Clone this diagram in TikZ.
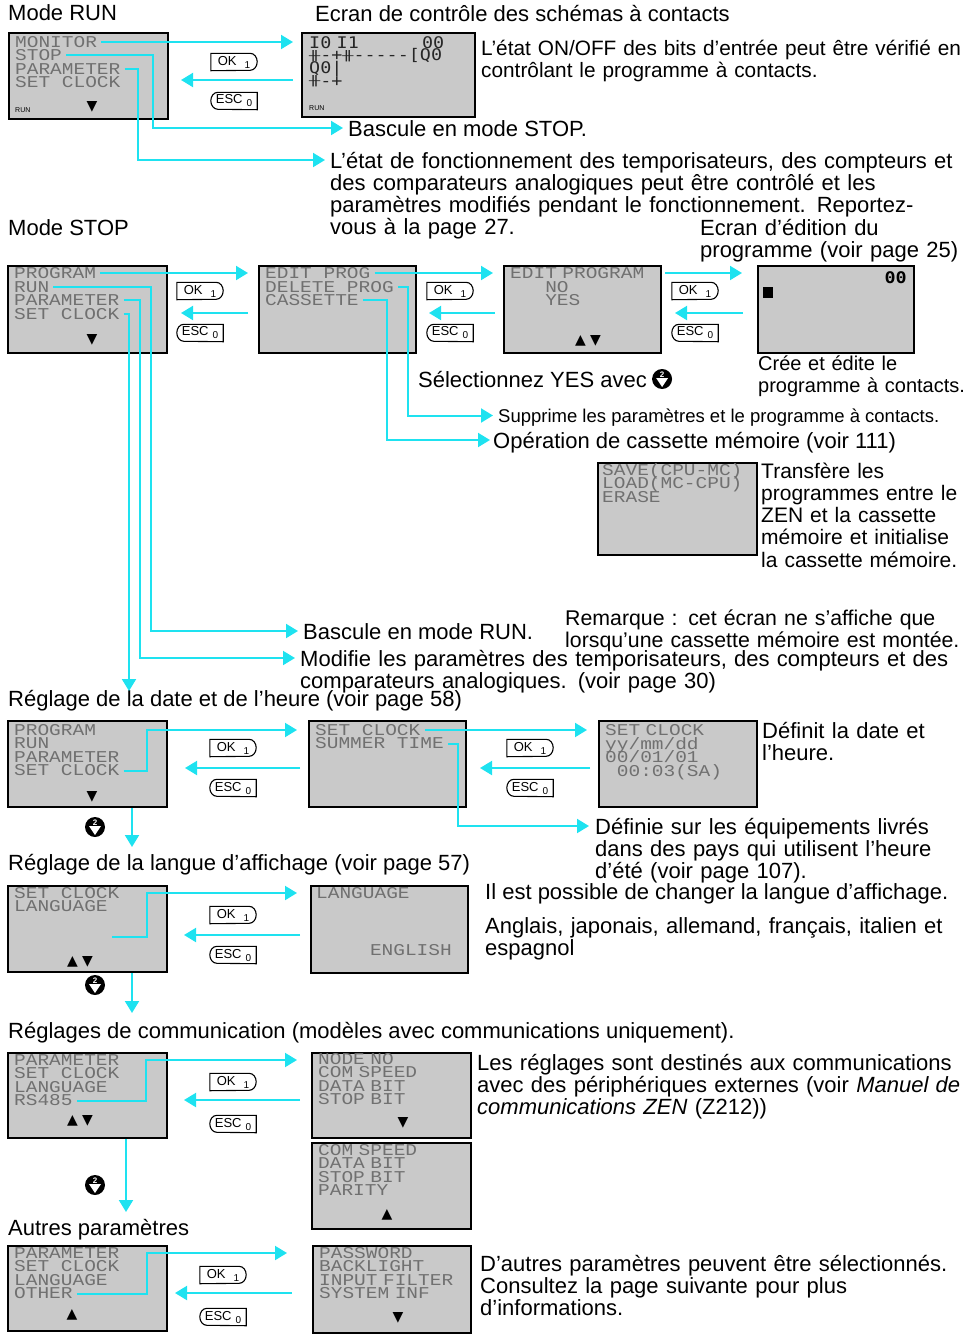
\documentclass[tikz,border=0pt]{standalone}
\usepackage{graphicx}
\usepackage{fontspec}
\setmainfont{Liberation Sans}
\newfontfamily\lcdfont{Liberation Mono}[FakeStretch=1.18]
\newfontfamily\ladderfont{DejaVu Sans Mono}[FakeStretch=1.15]
\newfontfamily\symfont{DejaVu Sans}
\usetikzlibrary{arrows.meta, positioning, calc}

\definecolor{lcdgray}{RGB}{201,201,201}
\definecolor{lcdtext}{RGB}{112,112,112}
\definecolor{linkcyan}{RGB}{30,226,240}

% let tall glyphs overlap instead of pushing lines apart
\newcommand{\tightlines}{\lineskiplimit=-20pt\relax}
% ladder contact, squeezed to the height of a letter
\newcommand{\lcontact}{\raisebox{1.5pt}{\scalebox{1}[0.6]{╫}}}

% OK key: square on the left, round on the right
\newcommand{\okkey}[2]{%
  \node[keybox] (#1) at (#2) {OK\hspace{8pt}\raisebox{-3pt}{\fontsize{10}{10}\selectfont 1}};
  \draw[keyline] (#1.north west) -- ([xshift=-7pt]#1.north east)
    arc[start angle=90, end angle=-90, x radius=7pt, y radius=8.5pt] -- (#1.south west) -- cycle;
}
% ESC key: round on the left, square on the right
\newcommand{\esckey}[2]{%
  \node[keybox] (#1) at (#2) {ESC\hspace{4pt}\raisebox{-3pt}{\fontsize{10}{10}\selectfont 0}};
  \draw[keyline] (#1.north east) -- ([xshift=7pt]#1.north west)
    arc[start angle=90, end angle=270, x radius=7pt, y radius=8.5pt] -- (#1.south east) -- cycle;
}
% round key with 2 and a down triangle
\newcommand{\scrollkey}[2]{%
  \node[keydot] (#1) at (#2) {};
  \node[keynum] (#1-num) at ([yshift=4.5pt]#1.center) {2};
  \fill[white] ([xshift=-6pt,yshift=1pt]#1.center) -- ([xshift=6pt,yshift=1pt]#1.center) -- ([yshift=-8pt]#1.center) -- cycle;
}

\begin{document}
\begin{tikzpicture}[x=1pt, y=-1pt]

		% Define styles
		\tikzstyle{screen} = [rectangle, draw=black, line width=2pt, fill=lcdgray, anchor=north west, minimum width=159pt, minimum height=86pt, inner sep=0pt]
		\tikzstyle{lcd} = [font=\lcdfont\fontsize{16.5}{13.5}\selectfont, text=lcdtext, anchor=west, inner sep=0pt, text height=10.5pt, text depth=0pt]
		\tikzstyle{lcdblock} = [font=\lcdfont\fontsize{16.5}{13.5}\selectfont\tightlines, text=lcdtext, anchor=base west, inner sep=0pt, text width=150pt, align=left]
		\tikzstyle{ladderblock} = [font=\ladderfont\fontsize{16}{12.7}\selectfont\tightlines, text=black!85, anchor=base west, inner sep=0pt, text width=135pt, align=left]
		\tikzstyle{txt} = [font=\fontsize{22}{22.3}\selectfont, anchor=base west, inner sep=0pt, text width=700pt, align=left]
		\tikzstyle{oneline} = [font=\fontsize{22}{22.3}\selectfont, anchor=base west, inner sep=0pt]
		\tikzstyle{smalltxt} = [oneline, font=\fontsize{18.5}{20}\selectfont]
		\tikzstyle{scrollmark} = [font=\symfont\fontsize{14}{14}\selectfont, inner sep=0pt]
		\tikzstyle{tinyrun} = [font=\fontsize{7}{7}\selectfont, anchor=west, inner sep=0pt]
		\tikzstyle{link} = [draw=linkcyan, line width=2pt, -{Triangle[length=12pt, width=14pt]}]
		\tikzstyle{fromtext} = [shorten <=4pt]
		\tikzstyle{keybox} = [minimum width=46pt, minimum height=17pt, inner sep=0pt, font=\fontsize{13}{13}\selectfont]
		\tikzstyle{keyline} = [draw=black, line width=1.1pt]
		\tikzstyle{keydot} = [circle, fill=black, minimum size=20pt, inner sep=0pt]
		\tikzstyle{keynum} = [text=white, font=\bfseries\fontsize{8}{8}\selectfont, inner sep=0pt]

		\useasboundingbox (0,0) rectangle (967,1334);

		% Mode RUN
		\node[oneline] (hd-run) at (8,20) {Mode RUN};
		\node[oneline] (hd-ladder) at (315,21) {Ecran de contrôle des schémas à contacts};
		\node[screen] (run-menu) at (8,32) {};
		\node[lcd] (run-mon) at (15,42) {MONITOR};
		\node[lcd] (run-stop) at (15,55) {STOP};
		\node[lcd] (run-par) at (15,69) {PARAMETER};
		\node[lcd] (run-clk) at (15,82) {SET CLOCK};
		\node[tinyrun] (run-flag) at (15,110) {RUN};
		\node[scrollmark] (run-dn) at (92,107) {▼};

		\node[screen, minimum width=173pt, minimum height=84pt] (ladder) at (301,32) {};
		\node[ladderblock] (ladder-txt) at (309,48) {I0 I1\hfill 00\\\lcontact-+\lcontact-----[Q0\\Q0|\\\lcontact-+};
		\node[tinyrun] (ladder-flag) at (309,108) {RUN};
		\node[txt, font=\fontsize{20.8}{22.3}\selectfont] (t-ladder) at (481,55) {L’état ON/OFF des bits d’entrée peut être vérifié en\\contrôlant le programme à contacts.};

		\okkey{ok-run}{234,62}
		\esckey{esc-run}{234,101}
		\draw[link, fromtext, shorten >=8pt] (run-mon.east) -- (run-mon.east -| ladder.west);
		\draw[link] ([xshift=-8pt]ladder.west |- 0,80) -- ([xshift=12pt]run-menu.east |- 0,80);

		\node[oneline] (t-stopmode) at (348,136) {Bascule en mode STOP.};
		\node[txt] (t-monpar) at (330,168) {L’état de fonctionnement des temporisateurs, des compteurs et\\des comparateurs analogiques peut être contrôlé et les\\paramètres modifiés pendant le fonctionnement. Reportez-\\vous à la page 27.};
		\draw[link, fromtext, shorten >=5pt] (run-stop.east) -- (153,0 |- run-stop.east) |- ([yshift=8pt]t-stopmode.base west);
		\draw[link, fromtext, shorten >=5pt] (run-par.east) -- (138,0 |- run-par.east) |- ([yshift=8pt]t-monpar.base west);

		% Mode STOP
		\node[oneline] (hd-stop) at (8,235) {Mode STOP};
		\node[txt] (t-editor) at (700,235) {Ecran d’édition du\\programme (voir page 25)};
		\node[screen, minimum height=87pt] (stop-menu) at (7,265) {};
		\node[lcd] (stop-prog) at (14,273) {PROGRAM};
		\node[lcd] (stop-run) at (14,287) {RUN};
		\node[lcd] (stop-par) at (14,300) {PARAMETER};
		\node[lcd] (stop-clk) at (14,314) {SET CLOCK};
		\node[scrollmark] (stop-dn) at (92,340) {▼};

		\node[screen, minimum width=157pt, minimum height=87pt] (prog-menu) at (258,265) {};
		\node[lcd] (prog-edit) at (265,273) {EDIT PROG};
		\node[lcd] (prog-del) at (265,287) {DELETE PROG};
		\node[lcd] (prog-cas) at (265,300) {CASSETTE};

		\node[screen, minimum width=157pt, minimum height=87pt] (confirm) at (503,265) {};
		\node[lcdblock] (confirm-txt) at (510,278.5) {EDIT PROGRAM\\\phantom{EDI}NO\\\phantom{EDI}YES};
		\node[scrollmark] (confirm-ud) at (588,341) {▲ ▼};

		\node[screen, minimum width=156pt, minimum height=87pt] (editor) at (757,265) {};
		\node[font=\ladderfont\bfseries\fontsize{16}{16}\selectfont, anchor=east, inner sep=0pt] (editor-no) at (907,278) {00};
		\node[fill=black, minimum width=10pt, minimum height=11pt, inner sep=0pt] (editor-cur) at (768,292.5) {};

		\draw[link, fromtext, shorten >=10pt] (stop-prog.east) -- (stop-prog.east -| prog-menu.west);
		\draw[link] ([xshift=-10pt]prog-menu.west |- 0,313) -- ([xshift=13pt]stop-menu.east |- 0,313);
		\okkey{ok-stop}{200,291}
		\esckey{esc-stop}{200,333}
		\draw[link, fromtext, shorten >=10pt] (prog-edit.east) -- (prog-edit.east -| confirm.west);
		\draw[link] ([xshift=-8pt]confirm.west |- 0,313) -- ([xshift=12pt]prog-menu.east |- 0,313);
		\okkey{ok-prog}{450,291}
		\esckey{esc-prog}{450,333}
		\draw[link, shorten <=3pt, shorten >=15pt] (confirm.east |- prog-edit.east) -- (editor.west |- prog-edit.east);
		\draw[link] ([xshift=-14pt]editor.west |- 0,313) -- ([xshift=13pt]confirm.east |- 0,313);
		\okkey{ok-conf}{695,291}
		\esckey{esc-conf}{695,333}

		\node[txt, font=\fontsize{20}{22.3}\selectfont] (t-create) at (758,370) {Crée et édite le\\programme à contacts.};
		\node[oneline] (t-select) at (418,387) {Sélectionnez YES avec};
		\scrollkey{key-yes}{$(t-select.base east)+(15,-8)$}
		\node[smalltxt] (t-delete) at (498,422) {Supprime les paramètres et le programme à contacts.};
		\draw[link, fromtext, shorten >=5pt] (prog-del.east) -- (408,0 |- prog-del.east) |- ([yshift=6.5pt]t-delete.base west);
		\node[oneline] (t-cassette) at (493,448) {Opération de cassette mémoire (voir 111)};
		\draw[link, fromtext, shorten >=3pt] (prog-cas.east) -- (387,0 |- prog-cas.east) |- ([yshift=8pt]t-cassette.base west);

		\node[screen, minimum height=92pt] (cassette) at (597,462) {};
		\node[lcdblock] (cassette-txt) at (602,475) {SAVE(CPU-MC)\\LOAD(MC-CPU)\\ERASE};
		\node[txt, font=\fontsize{21}{22.3}\selectfont] (t-transfer) at (761,478) {Transfère les\\programmes entre le\\ZEN et la cassette\\mémoire et initialise\\la cassette mémoire.};
		\node[txt, font=\fontsize{21.3}{22.3}\selectfont] (t-note) at (565,625) {Remarque : cet écran ne s’affiche que\\lorsqu’une cassette mémoire est montée.};

		\node[oneline] (t-runmode) at (303,639) {Bascule en mode RUN.};
		\node[txt] (t-modify) at (300,666) {Modifie les paramètres des temporisateurs, des compteurs et des\\comparateurs analogiques. (voir page 30)};
		\draw[link, fromtext, shorten >=5pt] (stop-run.east) -- (151,0 |- stop-run.east) |- ([yshift=8pt]t-runmode.base west);
		\draw[link, fromtext, shorten >=5pt] (stop-par.east) -- (140,0 |- stop-par.east) |- ([yshift=8pt]t-modify.base west);

		% Date and time
		\node[oneline] (hd-clock) at (8,706) {Réglage de la date et de l’heure (voir page 58)};
		\draw[link, fromtext] (stop-clk.east) -- (129,0 |- stop-clk.east) -- ($(hd-clock.base west)+(121,-15)$);
		\node[screen] (clock-menu) at (7,720) {};
		\node[lcd] (clk-prog) at (14,730) {PROGRAM};
		\node[lcd] (clk-run) at (14,743.5) {RUN};
		\node[lcd] (clk-par) at (14,757) {PARAMETER};
		\node[lcd] (clk-set) at (14,770.5) {SET CLOCK};
		\node[scrollmark] (clock-dn) at (92,797) {▼};

		\node[screen, minimum width=157pt] (clock-sub) at (308,720) {};
		\node[lcd] (sub-set) at (315,730) {SET CLOCK};
		\node[lcd] (sub-sum) at (315,743.5) {SUMMER TIME};

		\node[screen, minimum width=158pt] (clock-set) at (598,720) {};
		\node[lcdblock] (clock-set-txt) at (605,735.5) {SET CLOCK\\yy/mm/dd\\00/01/01\\\phantom{0}00:03(SA)};
		\node[txt] (t-setdate) at (762,738) {Définit la date et\\l’heure.};

		\draw[link, fromtext, shorten >=11pt] (clk-set.east) -- (147,0 |- clk-set.east) |- (clock-sub.west |- clk-prog.west);
		\draw[link] ([xshift=-8pt]clock-sub.west |- 0,768) -- ([xshift=17pt]clock-menu.east |- 0,768);
		\okkey{ok-clk}{233,748}
		\esckey{esc-clk}{233,788}
		\draw[link, fromtext, shorten >=11pt] (sub-set.east) -- (sub-set.east -| clock-set.west);
		\draw[link] ([xshift=-8pt]clock-set.west |- 0,768) -- ([xshift=13pt]clock-sub.east |- 0,768);
		\okkey{ok-sub}{530,748}
		\esckey{esc-sub}{530,788}

		\node[txt] (t-summer) at (595,834) {Définie sur les équipements livrés\\dans des pays qui utilisent l’heure\\d’été (voir page 107).};
		\draw[link, fromtext, shorten >=6pt] (sub-sum.east) -- (458,0 |- sub-sum.east) |- ([yshift=8pt]t-summer.base west);

		\scrollkey{key-clk}{95,827}

		% Display language
		\node[oneline] (hd-lang) at (8,870) {Réglage de la langue d’affichage (voir page 57)};
		\draw[link] (clock-menu.south -| 132,0) -- ($(hd-lang.base west)+(124,-23)$);
		\node[screen] (lang-menu) at (7,885) {};
		\node[lcd] (lang-clk) at (14,893) {SET CLOCK};
		\node[lcd] (lang-lang) at (14,906.5) {LANGUAGE};
		\coordinate (lang-sel) at (112,937);
		\node[scrollmark] (lang-ud) at (80,962) {▲ ▼};

		\node[screen, minimum width=157pt, minimum height=87pt] (lang-disp) at (310,885) {};
		\node[lcd] (disp-lang) at (316,893) {LANGUAGE};
		\node[lcd, anchor=east] (disp-eng) at (452,950) {ENGLISH};

		\draw[link, shorten >=13pt] (lang-sel) -- (147,0 |- lang-sel) |- (lang-disp.west |- disp-lang.west);
		\draw[link] ([xshift=-10pt]lang-disp.west |- 0,935) -- ([xshift=16pt]lang-menu.east |- 0,935);
		\okkey{ok-lang}{233,915}
		\esckey{esc-lang}{233,955}

		\node[oneline] (t-lang) at (485,899) {Il est possible de changer la langue d’affichage.};
		\node[txt] (t-langs) at (485,933) {Anglais, japonais, allemand, français, italien et\\espagnol};

		\scrollkey{key-lang}{95,985}

		% Communication
		\node[oneline] (hd-comm) at (8,1038) {Réglages de communication (modèles avec communications uniquement).};
		\draw[link] (lang-menu.south -| 132,0) -- ($(hd-comm.base west)+(124,-25)$);
		\node[screen, minimum height=85pt] (comm-menu) at (7,1052) {};
		\node[lcd] (comm-par) at (14,1060) {PARAMETER};
		\node[lcd] (comm-clk) at (14,1073.5) {SET CLOCK};
		\node[lcd] (comm-lang) at (14,1087) {LANGUAGE};
		\node[lcd] (comm-rs) at (14,1100.5) {RS485};
		\node[scrollmark] (comm-ud) at (80,1121) {▲ ▼};

		\node[screen, minimum height=85pt] (comm-p1) at (311,1052) {};
		\node[lcdblock] (comm-p1-txt) at (318,1064) {NODE NO\\COM SPEED\\DATA BIT\\STOP BIT};
		\node[scrollmark] (comm-p1-dn) at (403,1123) {▼};
		\node[screen, minimum height=86pt] (comm-p2) at (311,1142) {};
		\node[lcdblock] (comm-p2-txt) at (318,1155) {COM SPEED\\DATA BIT\\STOP BIT\\PARITY};
		\node[scrollmark] (comm-p2-up) at (387,1215) {▲};

		\draw[link, fromtext, shorten >=14pt] (comm-rs.east) -- (146,0 |- comm-rs.east) |- (comm-p1.west |- comm-par.west);
		\draw[link] ([xshift=-11pt]comm-p1.west |- 0,1100) -- ([xshift=16pt]comm-menu.east |- 0,1100);
		\okkey{ok-comm}{233,1082}
		\esckey{esc-comm}{233,1124}

		\node[txt] (t-comm) at (477,1070) {Les réglages sont destinés aux communications\\avec des périphériques externes (voir \textit{Manuel de}\\\textit{communications ZEN} (Z212))};

		\scrollkey{key-comm}{95,1185}

		% Other settings
		\node[oneline] (hd-other) at (8,1235) {Autres paramètres};
		\draw[link] (comm-menu.south -| 126,0) -- ($(hd-other.base west)+(118,-23)$);
		\node[screen, minimum height=85pt] (other-menu) at (7,1245) {};
		\node[lcd] (other-par) at (14,1253) {PARAMETER};
		\node[lcd] (other-clk) at (14,1266.5) {SET CLOCK};
		\node[lcd] (other-lang) at (14,1280) {LANGUAGE};
		\node[lcd] (other-oth) at (14,1293.5) {OTHER};
		\node[scrollmark] (other-up) at (72,1315) {▲};

		\node[screen, minimum width=158pt, minimum height=87pt] (other-list) at (312,1245) {};
		\node[lcdblock] (other-txt) at (319,1258) {PASSWORD\\BACKLIGHT\\INPUT FILTER\\SYSTEM INF};
		\node[scrollmark] (other-dn) at (398,1318) {▼};

		\draw[link, fromtext, shorten >=25pt] (other-oth.east) -- (147,0 |- other-oth.east) |- (other-list.west |- other-par.west);
		\draw[link] ([xshift=-20pt]other-list.west |- 0,1293) -- ([xshift=7pt]other-menu.east |- 0,1293);
		\okkey{ok-other}{223,1275}
		\esckey{esc-other}{223,1317}

		\node[txt] (t-other) at (480,1271) {D’autres paramètres peuvent être sélectionnés.\\Consultez la page suivante pour plus\\d’informations.};

	\end{tikzpicture}
\end{document}
